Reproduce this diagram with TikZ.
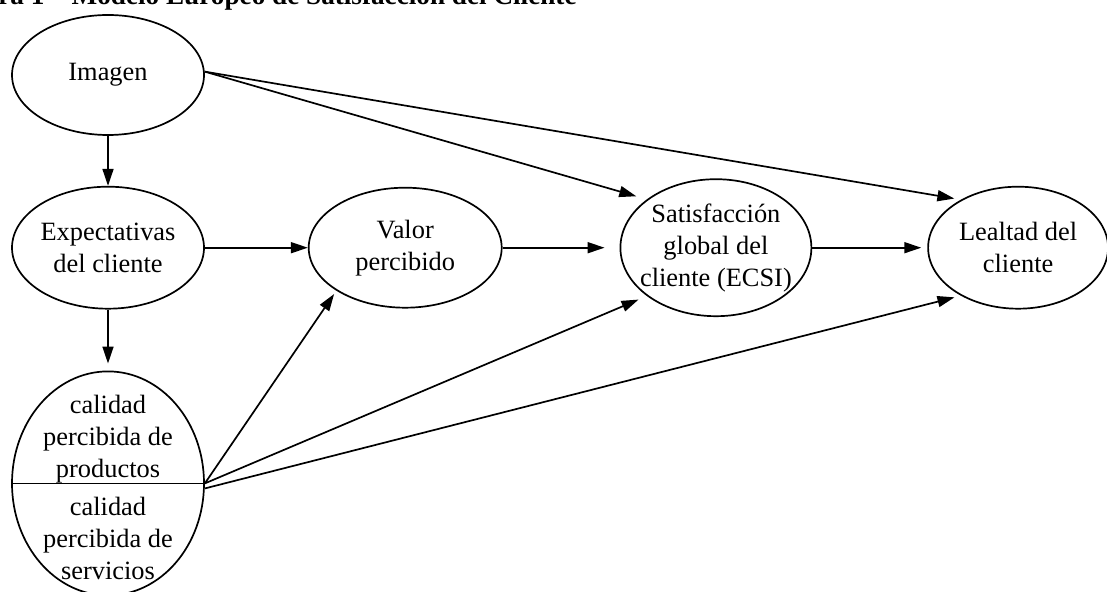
\documentclass[tikz,border=0pt]{standalone}
\usepackage{fontspec}
\setmainfont{Liberation Serif}
\usetikzlibrary{shapes.geometric,positioning,arrows.meta}

\tikzset{
    elipse/.style={ellipse, draw, line width=0.85pt, inner sep=-12pt, align=center, font=\fontsize{13.2}{16}\selectfont},
    texto/.style={align=center, inner sep=0pt, font=\fontsize{13.2}{16}\selectfont},
    titulo/.style={inner sep=0pt, font=\fontsize{13.6}{16}\selectfont\bfseries},
    flecha/.style={line width=0.85pt, -{Triangle[length=8.5pt,width=5.5pt]}},
}

\begin{document}
\begin{tikzpicture}[x=0.5pt, y=-0.5pt]
        \useasboundingbox (0,0) rectangle (1107,592);
        \node [titulo, anchor=base east] (titulo) at (577,4.5) {Figura 1 – Modelo Europeo de Satisfacción del Cliente}; % title, cut at the top
        \node [elipse, minimum width=96pt, minimum height=60pt] (img) at (108,75) {Imagen}; % Imagen
        \node [elipse, minimum width=96pt, minimum height=61pt, below=25pt of img] (exp) {Expectativas\\del cliente}; % Expectativas
        \node [elipse, minimum width=96pt, minimum height=112pt, below=30.5pt of exp] (cal) {}; % calidad percibida (split)
        \node [texto, above=0pt of cal.center] (calprod) {calidad\\percibida de\\productos}; % upper half
        \node [texto, below=6.5pt of cal.center] (calserv) {calidad\\percibida de\\servicios}; % lower half
        \node [elipse, minimum width=96.5pt, minimum height=60pt, right=51.5pt of exp] (val) {Valor\\percibido}; % Valor percibido
        \node [elipse, minimum width=95.5pt, minimum height=68.5pt, right=58.5pt of val] (sat) {Satisfacción\\global del\\cliente (ECSI)}; % Satisfaccion (ECSI)
        \node [elipse, minimum width=90pt, minimum height=61pt, right=57.5pt of sat] (leal) {Lealtad del\\cliente}; % Lealtad
        \draw [line width=0.85pt] (cal.west) -- (cal.east); % divider of the split ellipse
        % arrows
        \draw [flecha] (img) -- (exp);
        \draw [flecha, shorten >=3.5pt] (exp) -- (cal);
        \draw [flecha] (exp) -- (val);
        \draw [flecha, shorten >=7.5pt] (val) -- (sat);
        \draw [flecha, shorten >=3pt] (sat) -- (leal);
        \draw [flecha, shorten >=5.5pt] (img.2) -- (sat.145);
        \draw [flecha, shorten >=3.3pt] (img.2) -- (leal.140);
        \draw [flecha, shorten >=2pt] (cal.east) -- (val.212);
        \draw [flecha, shorten >=4.5pt] (cal.east) -- (sat.215);
        \draw [flecha, shorten >=3.3pt] (cal.-3) -- (leal.220);
\end{tikzpicture}
\end{document}
